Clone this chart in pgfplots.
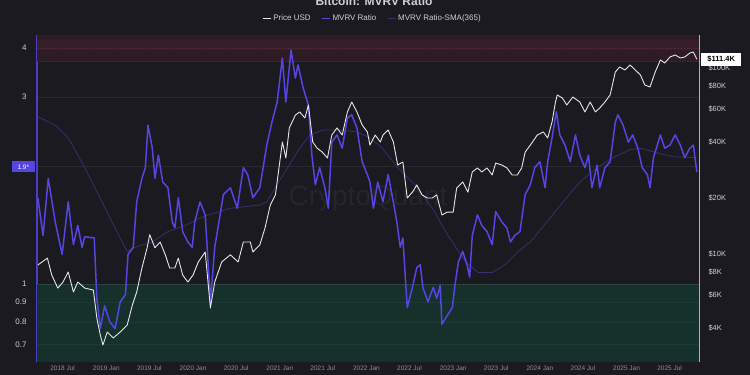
\documentclass[border=0pt]{standalone}
\usepackage{fontspec}
\setmainfont{Liberation Sans}
\usepackage{pgfplots}
\pgfplotsset{compat=1.18}
\definecolor{bg}{HTML}{1B1A21}
\definecolor{redband}{HTML}{2E1B23}
\definecolor{redband2}{HTML}{361F28}
\definecolor{redline}{HTML}{4E2832}
\definecolor{greenband}{HTML}{16302C}
\definecolor{greenline}{HTML}{3A4D49}
\definecolor{gridc}{HTML}{2A2931}
\definecolor{gridg}{HTML}{1D3A35}
\definecolor{mvrvc}{HTML}{5545E2}
\definecolor{smac}{HTML}{3A3270}
\definecolor{pricec}{HTML}{E6E6E6}
\definecolor{lbl}{HTML}{CFCFCF}
\definecolor{xlbl}{HTML}{8E8E8E}
\definecolor{axblue}{HTML}{4A3DC8}
\definecolor{axgrey}{HTML}{B0B0B0}
\definecolor{wm}{HTML}{26252C}
\begin{document}
\begin{tikzpicture}
\fill[bg] (0,0) rectangle (750pt,375pt);
\path[use as bounding box] (0,0) rectangle (750pt,375pt);
\node[font=\bfseries\fontsize{12}{14}\selectfont, text=lbl, anchor=base] at (374pt,369pt) {Bitcoin: MVRV Ratio};
\begin{axis}[
  at={(37pt,13pt)}, anchor=south west, scale only axis,
  width=662pt, height=327pt, clip=false,
  xmin=2018.2, xmax=2025.835,
  ymode=log, ymin=0.6325, ymax=4.315,
  axis y line*=left, axis x line*=bottom,
  x axis line style={draw=none},
  y axis line style={draw=axblue, line width=1.2pt},
  major tick length=0pt,
  ytick={0.7,0.8,0.9,1,2,3,4},
  yticklabels={0.7,0.8,0.9,1,,3,4},
  yticklabel style={font=\fontsize{8}{9}\selectfont, text=lbl, xshift=-7pt},
  xtick={2018.496,2019,2019.496,2020,2020.497,2021,2021.496,2022,2022.496,2023,2023.496,2024,2024.497,2025,2025.496},
  xticklabels={2018 Jul,2019 Jan,2019 Jul,2020 Jan,2020 Jul,2021 Jan,2021 Jul,2022 Jan,2022 Jul,2023 Jan,2023 Jul,2024 Jan,2024 Jul,2025 Jan,2025 Jul},
  xticklabel style={font=\fontsize{6.5}{7}\selectfont, text=xlbl},
  ymajorgrids, grid style={draw=gridc, line width=0.5pt},
]
\fill[redband] (axis cs:2018.2,3.7) rectangle (axis cs:2025.835,4.315);
\fill[redband2] (axis cs:2018.2,3.95) rectangle (axis cs:2025.835,4.2);
\fill[greenband] (axis cs:2018.2,0.6325) rectangle (axis cs:2025.835,1);
\addplot[redline, densely dotted, line width=0.6pt] coordinates {(2018.2,3.7) (2025.835,3.7)};
\addplot[redline, densely dotted, line width=0.4pt] coordinates {(2018.2,4.0) (2025.835,4.0)};
\addplot[gridg, line width=0.5pt] coordinates {(2018.2,0.9) (2025.835,0.9)};
\addplot[gridg, line width=0.5pt] coordinates {(2018.2,0.8) (2025.835,0.8)};
\addplot[gridg, line width=0.5pt] coordinates {(2018.2,0.7) (2025.835,0.7)};
\addplot[greenline, densely dotted, line width=0.6pt] coordinates {(2018.2,1) (2025.835,1)};
\node[font=\fontsize{28}{30}\selectfont, text=wm] at (axis description cs:0.5,0.50) {CryptoQuant};
% MVRV Ratio-SMA(365)
\addplot[smac, line width=0.7pt] coordinates {
(2018.21,2.67) (2018.41,2.54) (2018.56,2.36) (2018.75,1.98) (2018.95,1.62) (2019.10,1.39)
(2019.24,1.21) (2019.33,1.24) (2019.53,1.28) (2019.71,1.36) (2019.91,1.41) (2020.10,1.48)
(2020.43,1.56) (2020.77,1.59) (2020.85,1.62) (2021.04,1.90) (2021.23,2.22) (2021.35,2.40)
(2021.50,2.47) (2021.70,2.47) (2021.89,2.44) (2022.04,2.36) (2022.18,2.22) (2022.36,1.98)
(2022.56,1.79) (2022.76,1.56) (2022.94,1.33) (2023.14,1.14) (2023.29,1.07) (2023.45,1.07)
(2023.60,1.12) (2023.75,1.21) (2023.89,1.28) (2024.08,1.44) (2024.27,1.62) (2024.46,1.82)
(2024.66,1.98) (2024.84,2.10) (2025.04,2.20) (2025.16,2.22) (2025.35,2.16) (2025.54,2.11)
(2025.81,2.10)};
% MVRV Ratio
\addplot[mvrvc, line width=1.5pt, line join=round] coordinates {
(2018.21,1.66) (2018.27,1.33) (2018.33,1.86) (2018.41,1.44) (2018.49,1.19) (2018.56,1.62)
(2018.62,1.26) (2018.67,1.41) (2018.72,1.24) (2018.75,1.32) (2018.86,1.31) (2018.89,0.92)
(2018.93,0.77) (2018.98,0.88) (2019.04,0.80) (2019.10,0.77) (2019.16,0.90) (2019.22,0.94)
(2019.25,1.19) (2019.31,1.24) (2019.35,1.62) (2019.41,1.86) (2019.45,1.98) (2019.48,2.54)
(2019.53,2.22) (2019.56,1.86) (2019.60,2.13) (2019.65,1.82) (2019.71,1.76) (2019.76,1.44)
(2019.79,1.39) (2019.83,1.66) (2019.88,1.36) (2019.94,1.28) (2019.99,1.24) (2020.02,1.44)
(2020.08,1.62) (2020.14,1.50) (2020.20,0.90) (2020.25,1.24) (2020.35,1.69) (2020.43,1.76)
(2020.51,1.56) (2020.58,1.98) (2020.63,1.90) (2020.69,1.66) (2020.77,1.76) (2020.85,2.26)
(2020.91,2.59) (2020.97,2.91) (2021.03,3.77) (2021.07,2.91) (2021.13,3.95) (2021.18,3.35)
(2021.21,3.62) (2021.27,3.16) (2021.33,2.86) (2021.37,2.13) (2021.41,1.79) (2021.46,1.98)
(2021.52,1.76) (2021.56,1.56) (2021.60,2.30) (2021.66,2.40) (2021.72,2.22) (2021.78,2.65)
(2021.83,2.70) (2021.89,2.50) (2021.95,2.05) (2022.01,1.90) (2022.04,1.82) (2022.08,1.56)
(2022.13,1.82) (2022.19,1.62) (2022.25,1.90) (2022.31,1.62) (2022.35,1.44) (2022.39,1.24)
(2022.42,1.31) (2022.47,0.87) (2022.53,0.98) (2022.58,1.10) (2022.62,1.12) (2022.65,0.98)
(2022.71,0.90) (2022.77,0.98) (2022.81,0.92) (2022.85,0.99) (2022.87,0.79) (2022.93,0.83)
(2022.99,0.87) (2023.02,0.99) (2023.06,1.14) (2023.11,1.21) (2023.16,1.12) (2023.19,1.04)
(2023.22,1.33) (2023.28,1.50) (2023.33,1.41) (2023.39,1.36) (2023.45,1.26) (2023.49,1.53)
(2023.56,1.44) (2023.62,1.39) (2023.66,1.28) (2023.71,1.33) (2023.77,1.36) (2023.83,1.69)
(2023.89,1.79) (2023.94,1.98) (2024.00,2.05) (2024.06,1.76) (2024.09,2.05) (2024.14,2.36)
(2024.19,2.75) (2024.23,2.40) (2024.29,2.26) (2024.35,2.05) (2024.41,2.40) (2024.46,2.13)
(2024.52,1.98) (2024.56,2.13) (2024.60,1.76) (2024.66,2.01) (2024.69,1.76) (2024.75,1.98)
(2024.81,2.05) (2024.87,2.59) (2024.90,2.70) (2024.96,2.54) (2025.02,2.30) (2025.07,2.40)
(2025.13,2.22) (2025.18,1.98) (2025.24,1.90) (2025.27,1.76) (2025.31,2.10) (2025.39,2.40)
(2025.44,2.22) (2025.50,2.26) (2025.56,2.40) (2025.62,2.26) (2025.67,2.10) (2025.73,2.22)
(2025.77,2.26) (2025.81,1.93)};
\node[fill=mvrvc, text=white, font=\fontsize{6.5}{7}\selectfont, inner sep=1pt, minimum width=23pt, minimum height=11pt, anchor=east, xshift=-2pt] at (axis cs:2018.2,1.99) {1.9*};
\end{axis}
\begin{axis}[
  at={(37pt,13pt)}, anchor=south west, scale only axis,
  width=662pt, height=327pt, clip=false,
  xmin=2018.2, xmax=2025.835,
  ymode=log, ymin=2628, ymax=150350,
  axis y line*=right, axis x line=none,
  y axis line style={draw=axgrey, line width=1pt},
  major tick length=0pt,
  ytick={4000,6000,8000,10000,20000,40000,60000,80000,100000},
  yticklabels={\$4K,\$6K,\$8K,\$10K,\$20K,\$40K,\$60K,\$80K,\$100K},
  yticklabel style={font=\fontsize{7.5}{8}\selectfont, text=lbl, xshift=6pt},
  legend columns=3,
  legend style={at={(axis description cs:0.507,1.052)}, anchor=center, draw=none, fill=none,
    font=\fontsize{8}{9}\selectfont, text=lbl,
    /tikz/every even column/.append style={column sep=9pt}},
  legend image code/.code={\draw[#1] (0pt,0pt) -- (8pt,0pt);},
]
\addlegendimage{pricec, line width=0.8pt}
\addlegendentry{Price USD}
\addlegendimage{mvrvc, line width=0.8pt}
\addlegendentry{MVRV Ratio}
\addlegendimage{smac, line width=0.8pt}
\addlegendentry{MVRV Ratio-SMA(365)}
\addplot[pricec, line width=0.9pt, line join=round, forget plot] coordinates {
(2018.21,8730) (2018.32,9500) (2018.37,7710) (2018.44,6560) (2018.50,7070) (2018.56,8000)
(2018.62,6250) (2018.67,7070) (2018.75,6560) (2018.85,6400) (2018.89,4530) (2018.93,3670)
(2018.96,3240) (2019.01,3810) (2019.08,3540) (2019.16,3810) (2019.24,4150) (2019.30,5320)
(2019.35,6250) (2019.41,8410) (2019.47,10800) (2019.50,12700) (2019.56,10800) (2019.62,11600)
(2019.68,9900) (2019.73,8410) (2019.79,8410) (2019.83,9500) (2019.88,7710) (2019.94,7070)
(2020.00,7710) (2020.06,9060) (2020.14,10250) (2020.20,5130) (2020.25,7070) (2020.33,9060)
(2020.43,9900) (2020.52,9060) (2020.58,11600) (2020.66,11600) (2020.69,10250) (2020.77,11200)
(2020.83,13800) (2020.89,18300) (2020.95,20800) (2020.98,26600) (2021.03,40000) (2021.07,32800)
(2021.11,47600) (2021.18,55800) (2021.23,58000) (2021.29,53800) (2021.33,63200) (2021.38,40000)
(2021.43,37100) (2021.49,35300) (2021.55,32800) (2021.60,43600) (2021.66,47600) (2021.72,43600)
(2021.78,58000) (2021.83,65600) (2021.89,58000) (2021.95,49400) (2022.01,45300) (2022.04,38500)
(2022.10,43600) (2022.16,40000) (2022.19,43600) (2022.25,46400) (2022.31,40000) (2022.36,30100)
(2022.42,31200) (2022.47,20000) (2022.53,21500) (2022.58,23500) (2022.64,20800) (2022.70,20000)
(2022.76,20000) (2022.81,20800) (2022.87,16200) (2022.93,16800) (2023.00,16800) (2023.04,22600)
(2023.11,24400) (2023.17,21500) (2023.22,27600) (2023.28,29000) (2023.33,27600) (2023.39,29000)
(2023.45,26600) (2023.49,30800) (2023.56,30100) (2023.62,29000) (2023.68,26600) (2023.74,26600)
(2023.79,29000) (2023.83,35300) (2023.89,38500) (2023.97,43600) (2024.04,45300) (2024.09,42000)
(2024.14,51200) (2024.18,65600) (2024.20,71600) (2024.26,68900) (2024.31,63200) (2024.38,69800)
(2024.46,65600) (2024.52,58000) (2024.58,65600) (2024.64,58000) (2024.69,60900) (2024.75,65600)
(2024.81,71600) (2024.87,95100) (2024.92,101200) (2024.98,97500) (2025.04,103700) (2025.10,97500)
(2025.16,91600) (2025.21,81000) (2025.27,79000) (2025.33,95100) (2025.39,110300) (2025.44,106300)
(2025.50,114500) (2025.56,117400) (2025.62,113100) (2025.67,114500) (2025.73,120300) (2025.77,121800)
(2025.81,111400)};
\node[fill=white, text=black, font=\bfseries\fontsize{7.5}{8}\selectfont, inner sep=1pt, minimum width=40pt, minimum height=13pt, anchor=west, xshift=2pt] at (axis cs:2025.835,111400) {\$111.4K};
\end{axis}
\end{tikzpicture}
\end{document}
